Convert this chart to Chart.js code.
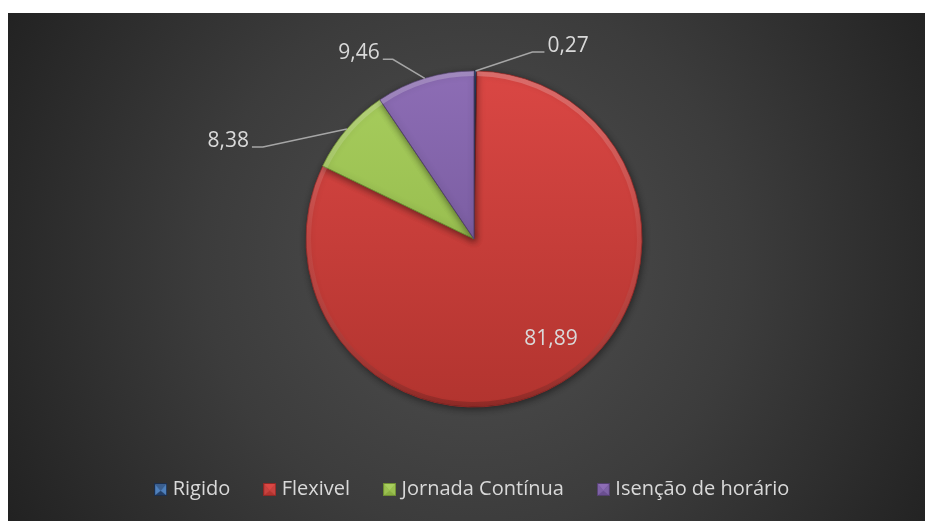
<!DOCTYPE html>
<html>
<head>
<meta charset="utf-8">
<script src="https://cdn.jsdelivr.net/npm/chart.js@4/dist/chart.umd.min.js"></script>
<style>
  html, body { margin: 0; padding: 0; background: #ffffff; overflow: hidden; }
  #wrap { position: relative; width: 925px; height: 521px; }
</style>
</head>
<body>
<div id="wrap"><canvas id="c"></canvas></div>
<script>
// ---- data ----
const categories = ['Rigido', 'Flexivel', 'Jornada Contínua', 'Isenção de horário'];
const values = [0.27, 81.89, 8.38, 9.46];

// ---- styles ----
const PIE_RADIUS = 168;
const baseColors = ['#4F81BD', '#C8423F', '#9BC150', '#7E62A6'];
const topColors = ['#3b5f8f', '#DA4744', '#A8CE5E', '#8D6DB5'];
const bottomColors = ['#243f66', '#B2342F', '#8AAF42', '#6A4F90'];
const edgeColors = ['#1c2f4d', '#8f2826', '#6f8e33', '#54406f'];

function fmt(v) { return v.toFixed(2).replace('.', ','); }

// gradient fill per slice, built from the chart area the library computed
function sliceFill(ctx) {
  const chart = ctx.chart;
  const i = ctx.dataIndex;
  const ca = chart.chartArea;
  if (!ca) return baseColors[i];
  const cy = (ca.top + ca.bottom) / 2;
  const g = chart.ctx.createLinearGradient(0, cy - PIE_RADIUS, 0, cy + PIE_RADIUS);
  g.addColorStop(0, topColors[i]);
  g.addColorStop(1, bottomColors[i]);
  return g;
}

// bevelled legend markers
function makeMarker(i) {
  const s = 13;
  const cv = document.createElement('canvas');
  cv.width = s; cv.height = s;
  const c = cv.getContext('2d');
  c.fillStyle = bottomColors[i];
  c.fillRect(0, 0, s, s);
  c.fillStyle = topColors[i];
  c.beginPath(); c.moveTo(0, 0); c.lineTo(s, 0); c.lineTo(s / 2, s * 0.6); c.closePath(); c.fill();
  c.fillStyle = baseColors[i];
  c.beginPath(); c.moveTo(0, 0); c.lineTo(s / 2, s * 0.6); c.lineTo(0, s); c.closePath(); c.fill();
  c.beginPath(); c.moveTo(s, 0); c.lineTo(s / 2, s * 0.6); c.lineTo(s, s); c.closePath(); c.fill();
  c.strokeStyle = edgeColors[i];
  c.lineWidth = 1;
  c.strokeRect(0.5, 0.5, s - 1, s - 1);
  return cv;
}
const markers = categories.map((_, i) => makeMarker(i));

// background plugin
const bgPlugin = {
  id: 'bg',
  beforeDraw(chart) {
    const { ctx, width, height } = chart;
    ctx.save();
    ctx.fillStyle = '#ffffff';
    ctx.fillRect(0, 0, width, height);
    const g = ctx.createRadialGradient(474, 262, 0, 474, 262, 540);
    g.addColorStop(0, '#505050');
    g.addColorStop(0.5, '#3c3c3c');
    g.addColorStop(1, '#212121');
    ctx.fillStyle = g;
    ctx.fillRect(8, 13, width - 8, height - 13);
    ctx.restore();
  }
};

// soft shadow under the pie
const shadowPlugin = {
  id: 'pieShadow',
  beforeDatasetsDraw(chart) {
    const ctx = chart.ctx;
    ctx.save();
    ctx.shadowColor = 'rgba(0,0,0,0.45)';
    ctx.shadowBlur = 7;
    ctx.shadowOffsetX = 1;
    ctx.shadowOffsetY = 2;
  },
  afterDatasetsDraw(chart) {
    chart.ctx.restore();
  }
};

// bevel rim on each slice (drawn from the arcs' own geometry)
const bevelPlugin = {
  id: 'bevel',
  afterDatasetsDraw(chart) {
    const ctx = chart.ctx;
    const meta = chart.getDatasetMeta(0);
    ctx.save();
    meta.data.forEach((arc) => {
      const p = arc.getProps(['x', 'y', 'startAngle', 'endAngle', 'outerRadius'], true);
      if (p.endAngle - p.startAngle < 0.05) return;
      ctx.save();
      ctx.beginPath();
      ctx.moveTo(p.x, p.y);
      ctx.arc(p.x, p.y, p.outerRadius, p.startAngle, p.endAngle);
      ctx.closePath();
      ctx.clip();
      const g = ctx.createLinearGradient(0, p.y - p.outerRadius, 0, p.y + p.outerRadius);
      g.addColorStop(0, 'rgba(255,255,255,0.22)');
      g.addColorStop(0.5, 'rgba(255,255,255,0.06)');
      g.addColorStop(1, 'rgba(0,0,0,0.18)');
      ctx.strokeStyle = g;
      ctx.lineWidth = 5;
      ctx.beginPath();
      ctx.arc(p.x, p.y, p.outerRadius - 2.5, p.startAngle, p.endAngle);
      ctx.stroke();
      ctx.restore();
    });
    ctx.restore();
  }
};

// data labels with leader lines
const labelPlugin = {
  id: 'sliceLabels',
  afterDatasetsDraw(chart, args, opts) {
    const ctx = chart.ctx;
    const meta = chart.getDatasetMeta(0);
    const ds = chart.data.datasets[0];
    ctx.save();
    ctx.font = opts.font;
    ctx.fillStyle = opts.color;
    ctx.textBaseline = 'middle';
    meta.data.forEach((arc, i) => {
      const p = arc.getProps(['x', 'y', 'startAngle', 'endAngle', 'outerRadius'], true);
      const cfg = opts.items[i];
      const mid = (p.startAngle + p.endAngle) / 2;
      const text = fmt(ds.data[i]);
      if (cfg.inside) {
        const a = mid + cfg.angleShift * Math.PI / 180;
        const rr = p.outerRadius * cfg.frac;
        ctx.textAlign = 'center';
        ctx.fillText(text, p.x + Math.cos(a) * rr, p.y + Math.sin(a) * rr);
        return;
      }
      const ax = p.x + Math.cos(mid) * p.outerRadius;
      const ay = p.y + Math.sin(mid) * p.outerRadius;
      const ex = ax + cfg.dx, ey = ay + cfg.dy;
      const tx = ex + cfg.tail;
      ctx.strokeStyle = opts.lineColor;
      ctx.lineWidth = 1.5;
      ctx.beginPath();
      ctx.moveTo(ax, ay);
      ctx.lineTo(ex, ey);
      ctx.lineTo(tx, ey);
      ctx.stroke();
      if (cfg.tail > 0) {
        ctx.textAlign = 'left';
        ctx.fillText(text, tx + 3, ey - 6);
      } else {
        ctx.textAlign = 'right';
        ctx.fillText(text, tx - 3, ey - 6);
      }
    });
    ctx.restore();
  }
};

new Chart(document.getElementById('c'), {
  type: 'pie',
  data: {
    labels: categories,
    datasets: [{
      data: values,
      backgroundColor: sliceFill,
      borderColor: edgeColors,
      borderWidth: 1,
      radius: PIE_RADIUS
    }]
  },
  options: {
    responsive: true,
    maintainAspectRatio: false,
    animation: false,
    layout: { padding: { top: 36, left: 23, right: 0, bottom: 11.5 } },
    plugins: {
      tooltip: { enabled: false },
      legend: {
        position: 'bottom',
        labels: {
          color: '#d9d9d9',
          font: { family: '"Open Sans", "Noto Sans", sans-serif', size: 20 },
          usePointStyle: true,
          boxWidth: 4,
          boxHeight: 13,
          padding: 37.5,
          generateLabels(chart) {
            const base = Chart.overrides.pie.plugins.legend.labels.generateLabels(chart);
            return base.map((it, i) => Object.assign(it, {
              pointStyle: markers[i],
              fillStyle: baseColors[i],
              strokeStyle: edgeColors[i],
              fontColor: '#d9d9d9'
            }));
          }
        }
      },
      sliceLabels: {
        font: '21px "Open Sans", "Noto Sans", sans-serif',
        color: '#d9d9d9',
        lineColor: '#a6a6a6',
        items: [
          { dx: 57, dy: -19, tail: 12 },
          { inside: true, frac: 0.75, angleShift: -6 },
          { dx: -84, dy: 18, tail: -11 },
          { dx: -32, dy: -19, tail: -10 }
        ]
      }
    }
  },
  plugins: [bgPlugin, shadowPlugin, bevelPlugin, labelPlugin]
});
</script>
</body>
</html>
